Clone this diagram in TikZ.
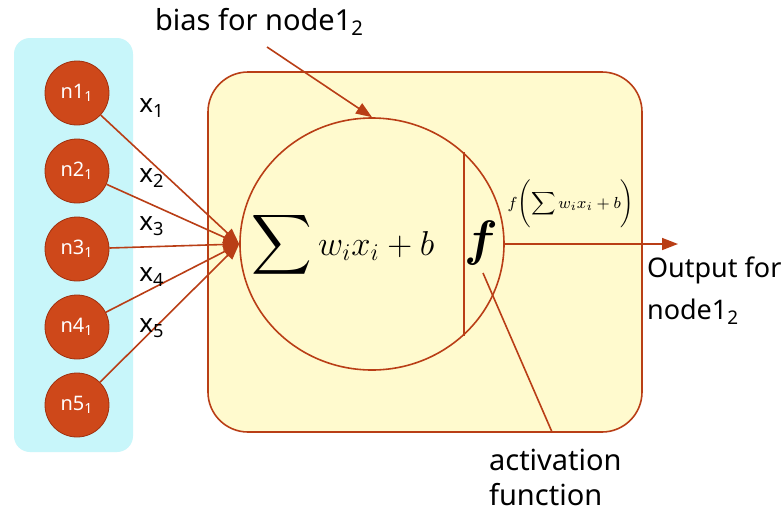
\documentclass[tikz,border=0pt]{standalone}
\usepackage{amsmath}
\usepackage{amssymb}
\usepackage{bm}
\usepackage{fontspec}
\setmainfont{Noto Sans}
\usetikzlibrary{arrows.meta,shapes.geometric,calc}
\definecolor{rust}{RGB}{185,62,22}
\definecolor{rustfill}{RGB}{206,72,26}
\definecolor{rustdark}{RGB}{160,48,14}
\definecolor{cyanbg}{RGB}{200,246,250}
\definecolor{yellowbg}{RGB}{255,250,206}

\begin{document}
\begin{tikzpicture}[x=0.5pt,y=-0.5pt,>={Triangle[length=8pt,width=6pt]},
  neuron/.style={circle,draw=rustdark,fill=rustfill,minimum size=32pt,inner sep=0pt,
    text=white,font=\fontsize{10}{11}\selectfont\bfseries},
  wire/.style={rust,line width=0.8pt},
  lbl/.style={font=\fontsize{13}{15}\selectfont}]
\useasboundingbox (0,0) rectangle (784,516);
\fill[white] (0,0) rectangle (784,516);
% layer and neuron boxes
\fill[cyanbg,rounded corners=8pt] (14,38) rectangle (133,452);
\draw[wire,fill=yellowbg,rounded corners=20pt] (208,72) rectangle (642,432);
\node[ellipse,draw=rust,line width=0.8pt,minimum width=132pt,minimum height=126pt,inner sep=0pt] (cell) at (372,244) {};
\draw[wire] (cell.45) -- (cell.-45);
\node (sum) at (343,245) {{\fontsize{21}{26}\selectfont$\displaystyle\sum$}{\fontsize{17}{21}\selectfont$\,w_i x_i + b$}};
\node (act) at (481,243) {\fontsize{24}{28}\selectfont$\bm{f}$};
% inputs
\foreach \i/\y in {1/93,2/171,3/249,4/327,5/405}{
  \node[neuron] (n\i) at (77,\y) {n\i\textsubscript{1}};
  \draw[wire,->] (n\i) -- (cell.west);
}
\foreach \i/\y in {1/108,2/178,3/226,4/277,5/328}
  \node[lbl] (x\i) at (152,\y) {x\textsubscript{\i}};
% bias
\node[anchor=west,font=\fontsize{14.5}{17}\selectfont] (bias) at (148,22) {bias for node1\textsubscript{2}};
\coordinate (biasfrom) at (267,47);
\draw[wire,->] (biasfrom) -- (cell.north);
% output
\coordinate (outend) at (678,244);
\draw[wire,->] (cell.east) -- (outend);
\node (fsum) at (571,204) {\fontsize{8}{10}\selectfont$f\Biggl(\displaystyle\sum w_i x_i + b\Biggr)$};
\node[anchor=north west,align=left,font=\fontsize{13.5}{21}\selectfont] (out) at (640,250) {Output for\\node1\textsubscript{2}};
% activation
\node[anchor=north west,align=left,font=\fontsize{14.5}{17.5}\selectfont] (actlbl) at (482,442) {activation\\function};
\coordinate (actfoot) at (552,432);
\coordinate (acthead) at (483,273);
\draw[wire] (actfoot) -- (acthead);
\end{tikzpicture}
\end{document}
